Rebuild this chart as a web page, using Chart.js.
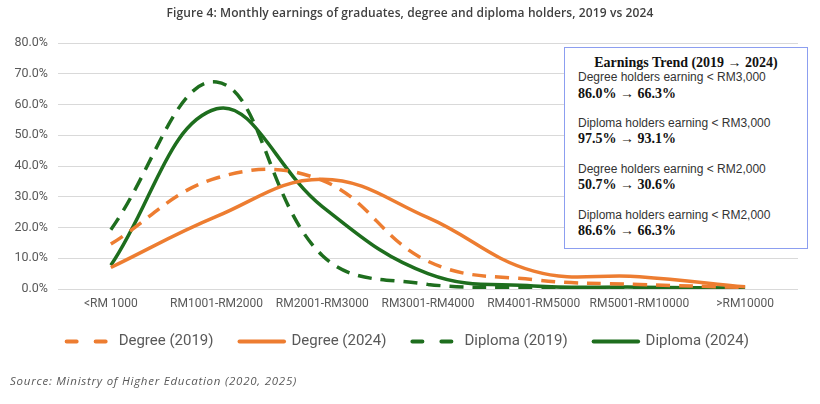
<!DOCTYPE html>
<html>
<head>
<meta charset="utf-8">
<script src="https://cdn.jsdelivr.net/npm/chart.js@4.4.1/dist/chart.umd.min.js"></script>
<style>
  html, body { margin: 0; padding: 0; background: #ffffff; }
  #wrap { position: relative; width: 820px; height: 404px; overflow: hidden; }
  #c { position: absolute; left: 0; top: 0; }
  #title {
    position: absolute; left: 0; top: 6px; width: 820px; text-align: center;
    font-family: "Open Sans", sans-serif; font-weight: 600; font-size: 12px; line-height: 14px;
    letter-spacing: 0.1px; color: #404040; white-space: nowrap;
  }
  #box {
    position: absolute; left: 564px; top: 47px; width: 244px; height: 202px;
    border: 1px solid #8c9ef0; background: #ffffff; box-sizing: border-box;
    padding: 7px 0 0 13px;
    font-family: "Liberation Sans", Arial, sans-serif; font-size: 12px; line-height: 15.3px; color: #333333;
  }
  #box .t { font-family: "Liberation Serif", "Times New Roman", serif; font-weight: bold; font-size: 14px; text-align: center; margin-left: -13px; color: #111; }
  #box .v { font-family: "Liberation Serif", "Times New Roman", serif; font-weight: bold; font-size: 14px; color: #111; }
  #box .gap { height: 15.3px; }
  #src {
    position: absolute; left: 10px; top: 373px; font-family: "Open Sans", sans-serif; font-style: italic;
    font-size: 11.5px; letter-spacing: 0.75px; color: #595959; white-space: nowrap;
  }
</style>
</head>
<body>
<div id="wrap">
  <canvas id="c" width="820" height="404"></canvas>
  <div id="title">Figure 4: Monthly earnings of graduates, degree and diploma holders, 2019 vs 2024</div>
  <div id="box">
    <div class="t">Earnings Trend (2019 → 2024)</div>
    <div>Degree holders earning &lt; RM3,000</div>
    <div class="v">86.0% → 66.3%</div>
    <div class="gap"></div>
    <div>Diploma holders earning &lt; RM3,000</div>
    <div class="v">97.5% → 93.1%</div>
    <div class="gap"></div>
    <div>Degree holders earning &lt; RM2,000</div>
    <div class="v">50.7% → 30.6%</div>
    <div class="gap"></div>
    <div>Diploma holders earning &lt; RM2,000</div>
    <div class="v">86.6% → 66.3%</div>
  </div>
  <div id="src">Source: Ministry of Higher Education (2020, 2025)</div>
</div>
<script>
const categories = ['<RM 1000', 'RM1001-RM2000', 'RM2001-RM3000', 'RM3001-RM4000', 'RM4001-RM5000', 'RM5001-RM10000', '>RM10000'];
const degree2019 = [14.6, 36.1, 35.3, 9.0, 3.0, 1.5, 0.5];
const degree2024 = [7.0, 23.6, 35.7, 23.2, 5.8, 4.0, 0.7];
const diploma2019 = [19.3, 67.3, 10.9, 1.5, 0.5, 0.3, 0.2];
const diploma2024 = [7.7, 58.6, 26.8, 5.0, 1.0, 0.6, 0.3];
const seriesNames = ['Degree (2019)', 'Degree (2024)', 'Diploma (2019)', 'Diploma (2024)'];
const yTicks = [0, 10, 20, 30, 40, 50, 60, 70, 80];

const ORANGE = '#ED7D31';
const GREEN = '#1E6E1E';
const DASH = [14, 9];

function ds(label, data, color, dashed) {
  return {
    label, data,
    borderColor: color, backgroundColor: color,
    borderWidth: 3.5,
    borderDash: dashed ? DASH : [],
    pointRadius: 0, pointHoverRadius: 0,
    tension: 0.4, fill: false
  };
}

const legendShift = {
  id: 'legendShift',
  afterLayout(chart) {
    const lg = chart.legend;
    if (lg) { lg.left += 17.5; lg.width -= 17.5; }
  }
};

new Chart(document.getElementById('c'), {
  type: 'line',
  data: {
    labels: categories,
    datasets: [
      ds(seriesNames[0], degree2019, ORANGE, true),
      ds(seriesNames[1], degree2024, ORANGE, false),
      ds(seriesNames[2], diploma2019, GREEN, true),
      ds(seriesNames[3], diploma2024, GREEN, false)
    ]
  },
  plugins: [legendShift],
  options: {
    responsive: false,
    animation: false,
    layout: { padding: { left: 0, right: 22, top: 43, bottom: 45 } },
    plugins: {
      tooltip: { enabled: false },
      title: { display: false },
      legend: {
        position: 'bottom',
        labels: {
          usePointStyle: true,
          pointStyle: 'line',
          pointStyleWidth: 44.5,
          padding: 26,
          color: '#595959',
          font: { family: 'Roboto, sans-serif', size: 15 },
          generateLabels(chart) {
            const items = Chart.defaults.plugins.legend.labels.generateLabels(chart);
            items.forEach(it => {
              const d = chart.data.datasets[it.datasetIndex];
              it.lineCap = 'round';
              it.lineWidth = 4;
              it.strokeStyle = d.borderColor;
              it.lineDash = (d.borderDash && d.borderDash.length) ? [10, 19] : [];
            });
            return items;
          }
        }
      }
    },
    scales: {
      x: {
        offset: true,
        grid: { display: false, drawTicks: false },
        border: { display: false },
        ticks: { color: '#595959', font: { family: 'Roboto, sans-serif', size: 12 }, padding: 8, maxRotation: 0, autoSkip: false },
        afterFit(scale) { scale.height = 19; }
      },
      y: {
        min: 0, max: 80,
        afterBuildTicks(scale) { scale.ticks = yTicks.map(v => ({ value: v })); },
        grid: { color: '#D9D9D9', lineWidth: 1, drawTicks: false },
        border: { display: false },
        ticks: {
          color: '#595959', font: { family: 'Roboto, sans-serif', size: 12.5 }, padding: 10,
          callback: v => v.toFixed(1) + '%'
        },
        afterFit(scale) { scale.width = 58; }
      }
    }
  }
});
</script>
</body>
</html>
